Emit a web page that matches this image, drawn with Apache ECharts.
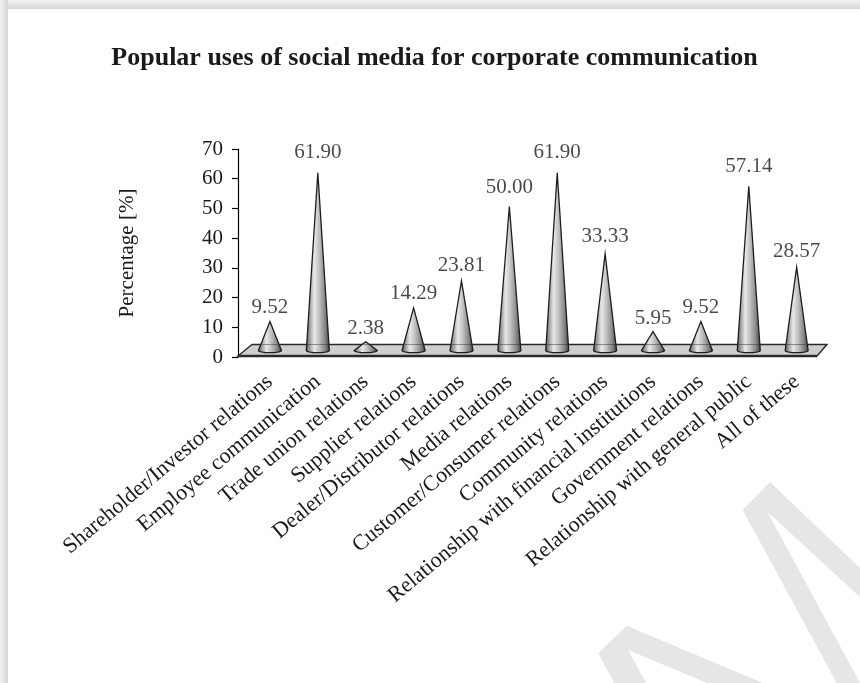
<!DOCTYPE html>
<html>
<head>
<meta charset="utf-8">
<script src="https://cdn.jsdelivr.net/npm/echarts@6/dist/echarts.min.js"></script>
<style>
  html, body { margin: 0; padding: 0; background: #fff; }
  #chart { width: 860px; height: 683px; }
</style>
</head>
<body>
<div id="chart"></div>
<script>
// Uses of social media for corporate communication (share of respondents, %)
const chartTitle = 'Popular uses of social media for corporate communication';
const categories = [
  'Shareholder/Investor relations',
  'Employee communication',
  'Trade union relations',
  'Supplier relations',
  'Dealer/Distributor relations',
  'Media relations',
  'Customer/Consumer relations',
  'Community relations',
  'Relationship with financial institutions',
  'Government relations',
  'Relationship with general public',
  'All of these'
];
const shares = [9.52, 61.90, 2.38, 14.29, 23.81, 50.00, 61.90, 33.33, 5.95, 9.52, 57.14, 28.57];
const valueMin = 0;
const valueMax = 70;
const valueStep = 10;

const SERIF = "'Liberation Serif', 'Times New Roman', serif";
const INK = '#1a1a1a';

// Horizontal shading that gives each cone its metallic, rounded look
const coneFill = {
  type: 'linear', x: 0, y: 0, x2: 1, y2: 0,
  colorStops: [
    { offset: 0.00, color: '#444444' },
    { offset: 0.12, color: '#8a8a8a' },
    { offset: 0.35, color: '#e8e8e8' },
    { offset: 0.55, color: '#c2c2c2' },
    { offset: 0.80, color: '#858585' },
    { offset: 1.00, color: '#383838' }
  ]
};

// One cone per category: apex at the value, elliptical base on the floor
function renderCone(params, api) {
  const i = api.value(0);
  const v = api.value(1);
  const tip = api.coord([i, v]);
  const zero = api.coord([i, 0]);
  const half = api.size([1, 0])[0] * 0.24;
  const cx = tip[0];
  const baseY = zero[1] + 2;
  const ry = 2.2;
  const pts = [[cx, tip[1]]];
  const n = 14;
  for (let k = 0; k <= n; k++) {
    const a = (k / n) * Math.PI;
    pts.push([cx + half * Math.cos(a), baseY + ry * Math.sin(a)]);
  }
  // thin seam where the cone crosses the back edge of the floor
  const seamY = zero[1] - 4;
  const t = (seamY - tip[1]) / (baseY - tip[1]);
  const children = [{
    type: 'polygon',
    shape: { points: pts },
    style: { fill: coneFill, stroke: '#1e1e1e', lineWidth: 1.3 }
  }];
  if (t > 0.05) {
    const hw = half * t - 1;
    children.push({
      type: 'line',
      shape: { x1: cx - hw, y1: seamY, x2: cx + hw, y2: seamY },
      style: { stroke: 'rgba(40,40,40,0.45)', lineWidth: 1 }
    });
  }
  return { type: 'group', children };
}

// Slanted floor plate under the cones
function renderFloor(params, api) {
  const cs = params.coordSys;
  const x0 = cs.x, x1 = cs.x + cs.width;
  const yf = cs.y + cs.height - 1;
  const yb = yf - 11.5;
  return {
    type: 'group',
    children: [
      {
        type: 'polygon',
        shape: { points: [[x0 - 8, yf], [x0 + 6, yb], [x1 + 6.4, yb], [x1 - 3.6, yf]] },
        style: { fill: '#cfcfcf', stroke: '#2a2a2a', lineWidth: 1.4 }
      },
      {
        type: 'line',
        shape: { x1: x0 - 8, y1: yf, x2: x1 - 3.6, y2: yf },
        style: { stroke: '#2a2a2a', lineWidth: 2.4 }
      }
    ]
  };
}

const chart = echarts.init(document.getElementById('chart'), null, { renderer: 'canvas' });

chart.setOption({
  animation: false,
  backgroundColor: '#ffffff',
  graphic: [
    // page shadow along the top and left edges
    {
      type: 'rect', z: 0, silent: true,
      shape: { x: 0, y: 0, width: 860, height: 9 },
      style: { fill: { type: 'linear', x: 0, y: 0, x2: 0, y2: 1,
        colorStops: [{ offset: 0, color: '#f3f3f3' }, { offset: 1, color: '#d6d6d6' }] } }
    },
    {
      type: 'rect', z: 0, silent: true,
      shape: { x: 0, y: 0, width: 8, height: 683 },
      style: { fill: { type: 'linear', x: 0, y: 0, x2: 1, y2: 0,
        colorStops: [{ offset: 0, color: '#f3f3f3' }, { offset: 1, color: '#d6d6d6' }] } }
    },
    // faint watermark strokes
    {
      type: 'polygon', z: 0, silent: true,
      shape: { points: [[836.7, 683], [742.7, 510], [770, 482], [860, 568], [860, 597], [767.3, 511.7], [860, 683]] },
      style: { fill: '#e6e6e6' }
    },
    {
      type: 'polygon', z: 0, silent: true,
      shape: { points: [[614.3, 683], [598.3, 653.3], [626.7, 625.7], [763, 683], [707, 683], [628.3, 650], [646, 683]] },
      style: { fill: '#e6e6e6' }
    },
    // chart title
    {
      type: 'text', z: 10, silent: true,
      x: 434.5, y: 58,
      style: {
        text: chartTitle,
        align: 'center',
        verticalAlign: 'middle',
        fontFamily: SERIF,
        fontSize: 26,
        fontWeight: 'bold',
        fill: INK
      }
    }
  ],
  grid: [
    // visible value axis and category labels
    { left: 246, right: 39.4, top: 149, bottom: 326 },
    // cone space (sits slightly back on the floor)
    { left: 246, right: 39.4, top: 149.7, bottom: 334.5 }
  ],
  xAxis: [
    {
      gridIndex: 0,
      type: 'category',
      data: categories,
      boundaryGap: true,
      axisLine: { show: false },
      axisTick: { show: false },
      axisLabel: {
        interval: 0,
        rotate: 40,
        margin: 22,
        fontFamily: SERIF,
        fontSize: 22,
        color: INK
      }
    },
    { gridIndex: 1, type: 'category', data: categories, boundaryGap: true, show: false }
  ],
  yAxis: [
    {
      gridIndex: 0,
      type: 'value',
      min: valueMin,
      max: valueMax,
      interval: valueStep,
      offset: 8,
      name: 'Percentage [%]',
      nameLocation: 'middle',
      nameGap: 100,
      nameTextStyle: { fontFamily: SERIF, fontSize: 21, color: INK },
      axisLine: { show: true, lineStyle: { color: '#000', width: 1.2 } },
      axisTick: { show: true, inside: false, length: 6, lineStyle: { color: '#000', width: 1.2 } },
      axisLabel: { margin: 15, fontFamily: SERIF, fontSize: 21, color: INK },
      splitLine: { show: false }
    },
    { gridIndex: 1, type: 'value', min: valueMin, max: valueMax, show: false }
  ],
  series: [
    {
      type: 'custom',
      name: 'floor',
      xAxisIndex: 0,
      yAxisIndex: 0,
      z: 2,
      silent: true,
      renderItem: renderFloor,
      data: [[0, 0]]
    },
    {
      type: 'custom',
      name: 'cones',
      xAxisIndex: 1,
      yAxisIndex: 1,
      z: 3,
      silent: true,
      renderItem: renderCone,
      encode: { x: 0, y: 1 },
      data: shares.map((v, i) => [i, v])
    },
    {
      type: 'scatter',
      name: 'values',
      xAxisIndex: 0,
      yAxisIndex: 0,
      z: 4,
      silent: true,
      symbolSize: 1,
      itemStyle: { color: 'rgba(0,0,0,0)' },
      label: {
        show: true,
        position: 'inside',
        offset: [0, -21],
        fontFamily: SERIF,
        fontSize: 21,
        color: INK,
        formatter: (p) => Number(p.value).toFixed(2)
      },
      data: shares
    }
  ]
});
</script>
</body>
</html>
